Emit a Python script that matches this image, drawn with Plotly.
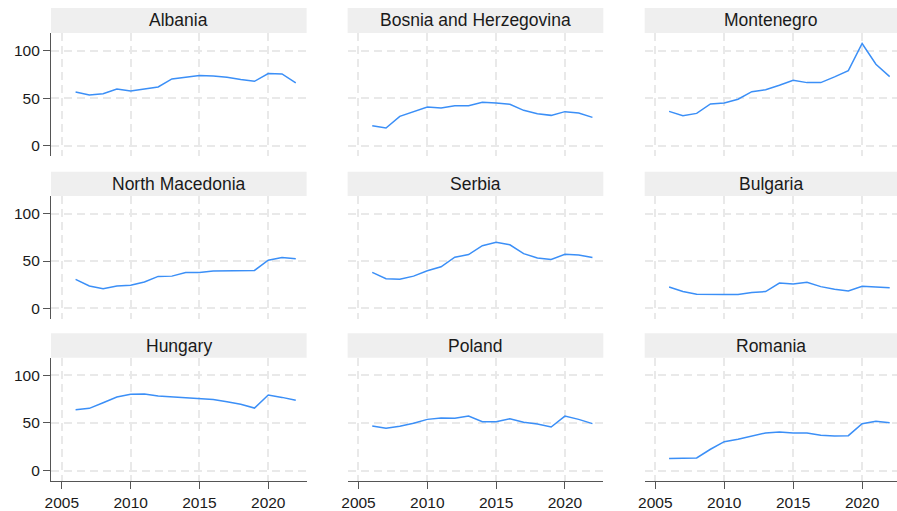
import plotly.graph_objects as go

years = list(range(2006, 2023))
countries = ["Albania", "Bosnia and Herzegovina", "Montenegro",
             "North Macedonia", "Serbia", "Bulgaria",
             "Hungary", "Poland", "Romania"]

albania = [56.5, 53.3, 54.7, 59.6, 57.5, 59.6, 61.8, 70.2, 71.9, 73.7, 73.3, 71.9, 69.5, 67.7, 75.8, 75.4, 66.0]
bosnia = [21.0, 18.6, 30.9, 35.4, 40.7, 39.6, 42.1, 42.1, 45.6, 44.9, 43.5, 37.2, 33.7, 31.9, 35.8, 34.4, 29.8]
montenegro = [36.1, 31.6, 34.0, 43.9, 44.9, 48.8, 56.8, 58.9, 63.5, 68.8, 66.3, 66.3, 72.3, 78.9, 107.4, 85.6, 72.6]
north_macedonia = [30.7, 23.7, 20.9, 23.7, 24.4, 27.9, 33.8, 34.1, 38.0, 38.0, 39.4, 39.4, 40.1, 40.1, 50.9, 53.7, 52.3]
serbia = [38.0, 31.4, 30.7, 34.1, 39.7, 43.9, 54.0, 56.8, 66.2, 69.7, 67.2, 57.8, 53.3, 51.6, 57.1, 56.4, 53.7]
bulgaria = [22.6, 17.8, 15.0, 14.6, 14.6, 14.6, 16.7, 17.8, 26.8, 25.8, 27.5, 23.0, 20.2, 18.5, 23.3, 22.6, 21.9]
hungary = [64.0, 65.4, 71.3, 77.3, 80.1, 80.4, 78.3, 77.3, 76.6, 75.9, 74.8, 72.4, 69.6, 65.7, 79.4, 76.9, 73.8]
poland = [46.9, 44.4, 46.5, 49.7, 53.8, 55.2, 54.9, 57.3, 51.4, 51.4, 54.5, 50.7, 49.0, 45.8, 57.3, 53.8, 49.3]
romania = [12.6, 12.6, 13.3, 22.4, 30.4, 32.9, 36.4, 39.5, 40.6, 39.5, 39.5, 37.1, 36.4, 36.7, 49.3, 51.7, 50.3]

series = [albania, bosnia, montenegro, north_macedonia, serbia, bulgaria, hungary, poland, romania]

x_ticks = [2005, 2010, 2015, 2020]
y_ticks = [0, 50, 100]

W, H = 897, 511
col_px = [(44.3, 302.0), (343.3, 601.0), (642.7, 897.0)]
col_rng = [(2004.21, 2022.79), (2004.21, 2022.79), (2004.23, 2022.53)]
row_px = [(33.0, 156.5), (196.5, 319.5), (358.5, 482.0)]
strip_px = [(8.0, 33.0), (172.0, 196.5), (334.0, 358.5)]

LINE = "#3b8ff7"
AX = "#555555"
GRID = "#e9e9e9"
FONT = "Liberation Sans, Arial, sans-serif"

fig = go.Figure()
layout = {}
shapes = []
annotations = []

for i, (name, vals) in enumerate(zip(countries, series)):
    r, c = divmod(i, 3)
    k = "" if i == 0 else str(i + 1)
    fig.add_trace(go.Scatter(x=years, y=vals, mode="lines",
                             line=dict(color=LINE, width=1.5),
                             xaxis="x" + k, yaxis="y" + k,
                             showlegend=False, hoverinfo="x+y"))
    x0, x1 = col_px[c]
    yt, yb = row_px[r]
    layout["xaxis" + k] = dict(
        domain=[x0 / W, x1 / W], range=list(col_rng[c]), anchor="y" + k,
        tickvals=x_ticks, showticklabels=(r == 2),
        ticks="outside" if r == 2 else "", ticklen=7, tickcolor=AX,
        showline=(r == 2), linecolor=AX, linewidth=1,
        showgrid=True, gridcolor=GRID, gridwidth=1.5, griddash="8px,5px",
        zeroline=False, tickfont=dict(size=15.5, color="#1a1a1a"),
    )
    layout["yaxis" + k] = dict(
        domain=[1 - yb / H, 1 - yt / H], range=[-11, 118.5], anchor="x" + k,
        tickvals=y_ticks, showticklabels=(c == 0),
        ticks="outside" if c == 0 else "", ticklen=7, tickcolor=AX,
        showline=(c == 0), linecolor=AX, linewidth=1,
        showgrid=True, gridcolor=GRID, gridwidth=1.5, griddash="8px,5px",
        zeroline=False, tickfont=dict(size=15.5, color="#1a1a1a"),
    )
    st, sb = strip_px[r]
    shapes.append(dict(type="rect", xref="paper", yref="paper",
                       x0=x0 / W, x1=x1 / W, y0=1 - sb / H, y1=1 - st / H,
                       fillcolor="#efefef", line=dict(width=0), layer="below"))
    annotations.append(dict(text=name, xref="paper", yref="paper",
                            x=(x0 + x1) / 2 / W, y=1 - (st + sb) / 2 / H,
                            xanchor="center", yanchor="middle", showarrow=False,
                            font=dict(size=17.5, color="#1a1a1a", family=FONT)))

fig.update_layout(
    width=W, height=H, margin=dict(l=0, r=0, t=0, b=0),
    paper_bgcolor="white", plot_bgcolor="white",
    font=dict(family=FONT), shapes=shapes, annotations=annotations,
    **layout,
)

fig.write_html(
    "out.html",
    config={"displayModeBar": False},
    post_script="document.body.style.margin='0';document.body.style.overflow='hidden';",
)
